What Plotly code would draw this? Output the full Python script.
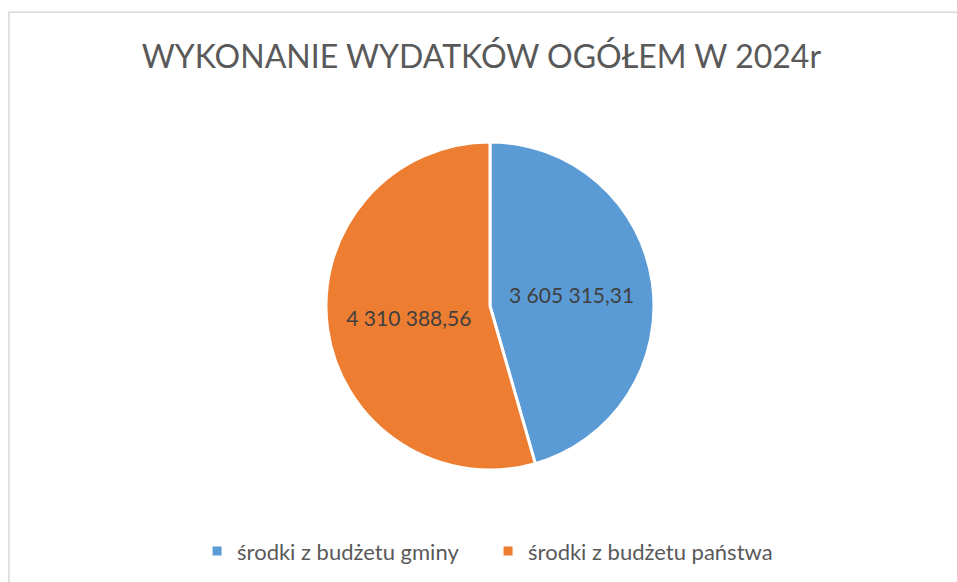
import plotly.graph_objects as go

labels = ["środki z budżetu gminy", "środki z budżetu państwa"]
values = [3605315.31, 4310388.56]
colors = ["#5B9BD5", "#ED7D31"]
title = "WYKONANIE WYDATKÓW OGÓŁEM W 2024r"


def fmt(v):
    s = f"{v:,.2f}"
    return s.replace(",", " ").replace(".", ",")


texts = [fmt(v) for v in values]

fig = go.Figure(go.Pie(
    labels=labels,
    values=values,
    text=texts,
    textinfo="text",
    texttemplate="%{text}",
    textposition="inside",
    insidetextorientation="horizontal",
    sort=False,
    direction="clockwise",
    rotation=0,
    marker=dict(colors=colors, line=dict(color="white", width=3)),
    textfont=dict(family="Lato, 'Open Sans', sans-serif", size=21, color="#404040"),
    hoverinfo="label+value",
))

fig.update_layout(
    width=957, height=582,
    margin=dict(l=0, r=0, t=0, b=0),
    paper_bgcolor="white",
    title=dict(text=title, x=0.503, xanchor="center", y=0.903, yanchor="middle",
               font=dict(family="Lato, 'Open Sans', sans-serif", size=32, color="#595959")),
    showlegend=True,
    legend=dict(orientation="h", x=0.51, xanchor="center", y=0.053, yanchor="middle",
                font=dict(family="Lato, 'Open Sans', sans-serif", size=22, color="#595959"),
                itemwidth=30, traceorder="normal",
                entrywidth=246, entrywidthmode="pixels"),
    shapes=[dict(type="rect", xref="paper", yref="paper", x0=0.0093, x1=1.2, y0=-0.2, y1=0.979,
                 line=dict(color="#D9D9D9", width=1.5), fillcolor="rgba(0,0,0,0)", layer="below")],
)

# position pie: center ~ (490, 306) radius ~164 in pixels
cx, cy, r = 490, 306, 164
W, H = 957, 582
fig.data[0].domain = dict(x=[(cx - r) / W, (cx + r) / W], y=[(H - cy - r) / H, (H - cy + r) / H])

fig.write_html("out.html")
